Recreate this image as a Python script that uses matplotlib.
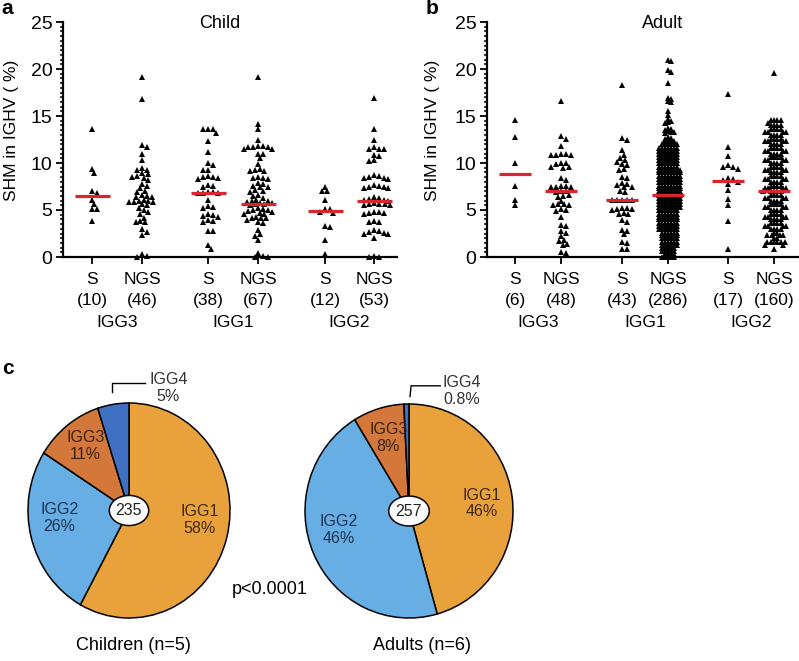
import matplotlib
matplotlib.use("Agg")
import matplotlib.pyplot as plt
import numpy as np
from matplotlib.ticker import MultipleLocator
from matplotlib.patches import Ellipse

plt.rcParams['font.family'] = ['Liberation Sans', 'DejaVu Sans']

# ---- data (SHM in IGHV, %) ----
child_counts = ['(10)', '(46)', '(38)', '(67)', '(12)', '(53)']
adult_counts = ['(6)', '(48)', '(43)', '(286)', '(17)', '(160)']
methods = ['S', 'NGS', 'S', 'NGS', 'S', 'NGS']
subclasses = ['IGG3', 'IGG1', 'IGG2']

child_igg3_s = [13.6, 9.4, 8.9, 7.0, 6.8, 6.1, 5.6, 5.1, 5.1, 3.8]
child_igg3_ngs = [19.2, 16.8, 11.9, 11.7, 11.0, 10.3, 9.5, 9.3, 9.3, 8.9, 8.8, 8.6,
                  8.5, 8.4, 8.2, 7.8, 7.6, 7.3, 7.0, 6.9, 6.6, 6.5, 6.4, 6.4,
                  6.1, 6.0, 6.0, 5.9, 5.9, 5.8, 5.6, 5.5, 5.2, 5.0, 4.8, 4.6,
                  4.2, 3.8, 3.7, 3.7, 3.0, 2.7, 2.3, 0.3, 0.1, 0.0]
child_igg1_s = [13.6, 13.6, 13.6, 13.2, 12.3, 11.2, 10.0, 9.8, 9.3, 9.3, 8.6, 8.5,
                8.5, 8.4, 8.3, 7.7, 7.6, 7.5, 6.9, 6.9, 6.8, 6.8, 6.8, 6.1,
                5.4, 5.3, 5.2, 4.6, 4.5, 4.4, 4.3, 3.9, 3.8, 3.7, 2.8, 2.8, 1.3, 0.9]
child_igg1_ngs = [19.2, 14.2, 13.6, 12.4, 11.8, 11.8, 11.7, 11.7, 11.7, 11.5, 11.5,
                  11.0, 11.0, 10.5, 9.9, 9.4, 9.3, 9.2, 9.1, 8.5, 8.4, 8.4, 8.3,
                  7.9, 7.8, 7.6, 7.5, 7.4, 7.1, 7.0, 6.9, 6.6, 6.5, 6.3, 6.1, 6.0,
                  6.0, 5.9, 5.7, 5.7, 5.6, 5.6, 5.5, 5.2, 5.1, 5.0, 5.0, 4.9, 4.8,
                  4.7, 4.6, 4.6, 4.3, 4.2, 4.2, 4.1, 3.9, 3.7, 3.6, 2.9, 2.4, 2.2,
                  1.8, 0.4, 0.1, 0.0, 0.0]
child_igg2_s = [7.5, 7.0, 7.0, 6.1, 5.1, 5.1, 4.8, 4.7, 3.3, 3.2, 1.8, 0.3]
child_igg2_ngs = [16.9, 13.6, 12.4, 11.7, 11.5, 11.5, 11.5, 10.9, 10.7, 10.3, 10.2,
                  8.7, 8.6, 8.5, 8.4, 8.4, 8.3, 7.7, 7.6, 7.5, 7.4, 7.3, 7.3,
                  6.4, 6.3, 6.2, 6.1, 6.1, 6.0, 5.7, 5.6, 5.6, 5.6, 5.5, 5.5,
                  4.8, 4.8, 4.7, 4.7, 4.6, 3.8, 3.7, 3.7, 2.9, 2.8, 2.7, 2.6,
                  2.5, 2.5, 2.0, 0.1, 0.0, 0.0]

adult_igg3_s = [14.6, 12.8, 10.0, 7.6, 6.1, 5.5]
adult_igg3_ngs = [16.6, 12.9, 12.6, 11.8, 11.0, 11.0, 10.9, 10.9, 10.9, 10.0, 10.0,
                  9.9, 9.6, 9.6, 9.5, 8.4, 8.2, 7.6, 7.6, 7.5, 7.5, 7.4, 7.0, 7.0,
                  6.9, 6.6, 6.5, 6.4, 6.0, 5.6, 5.6, 5.5, 5.5, 5.1, 5.0, 4.9, 4.3,
                  3.4, 3.3, 2.8, 2.6, 2.2, 1.8, 1.7, 1.4, 1.3, 0.5, 0.4]
adult_igg1_s = [18.3, 12.7, 12.5, 11.4, 10.9, 10.5, 10.3, 10.1, 9.9, 9.8, 9.4, 9.3,
                8.5, 8.4, 7.9, 7.8, 7.7, 7.5, 7.4, 7.0, 6.9, 6.1, 6.1, 6.1, 6.1,
                6.1, 5.2, 5.2, 5.1, 5.1, 5.0, 4.7, 4.6, 4.6, 3.9, 3.7, 2.9, 2.8,
                2.4, 1.6, 1.5, 0.9, 0.8]
# dense column: isolated high values, then SHM levels with their counts
adult_igg1_ngs_high = [21.0, 20.9, 19.9, 19.7, 18.5, 16.9, 16.8, 16.6, 16.5, 15.5,
                       15.1, 14.7, 14.5, 14.4, 14.3, 13.7, 13.6, 13.5, 13.4, 13.3,
                       13.3, 13.2, 12.8, 12.7, 12.6]
adult_igg1_ngs_levels = [12.3, 12.0, 11.6, 11.3, 11.0, 10.6, 10.3, 10.0, 9.6, 9.3,
                         9.0, 8.6, 8.3, 8.0, 7.6, 7.3, 7.0, 6.6, 6.3, 6.0, 5.6, 5.3,
                         5.0, 4.6, 4.3, 4.0, 3.6, 3.3, 3.0, 2.6, 2.3, 2.0, 1.6, 1.3,
                         1.0, 0.6, 0.3, 0.0]
adult_igg1_ngs_counts = [4, 6, 7, 7, 7, 7, 7, 7, 7, 8, 8, 8, 8, 8, 8, 8, 8, 8, 8,
                         8, 8, 8, 7, 7, 7, 7, 7, 7, 7, 6, 6, 6, 6, 6, 5, 5, 4, 5]
adult_igg2_s = [17.3, 11.7, 10.7, 9.8, 9.6, 9.6, 9.4, 8.4, 8.3, 8.2, 8.0, 7.8, 7.1,
                6.2, 5.5, 3.8, 0.9]
adult_igg2_ngs_levels = [19.6, 14.6, 14.3, 14.0, 13.6, 13.3, 13.0, 12.6, 12.3, 12.0,
                         11.6, 11.3, 11.0, 10.6, 10.3, 10.0, 9.6, 9.3, 9.0, 8.6,
                         8.3, 8.0, 7.6, 7.3, 7.0, 6.6, 6.3, 6.0, 5.6, 5.3, 5.0, 4.6,
                         4.3, 4.0, 3.6, 3.3, 3.0, 2.6, 2.3, 2.0, 1.6, 1.3, 0.9]
adult_igg2_ngs_counts = [1, 4, 1, 4, 4, 4, 4, 4, 4, 4, 4, 4, 4, 4, 4, 4, 4, 4, 4, 4,
                         4, 4, 4, 4, 5, 4, 4, 4, 4, 4, 4, 4, 4, 4, 4, 4, 4, 2, 4, 2,
                         6, 2, 1]

child_medians = [6.5, None, 6.8, 5.6, 4.9, 6.0]
adult_medians = [8.8, 7.0, 6.1, 6.6, 8.1, 7.0]

pie_labels = ['IGG1', 'IGG2', 'IGG3', 'IGG4']
children_pct = [58, 26, 11, 5]
adults_pct = [46, 46, 8, 0.8]
children_total = 235
adults_total = 257

pie_colors = ['#E9A23B', '#66AEE3', '#D4773A', '#3F70C2']
red = '#D8262F'

adult_igg1_ngs = adult_igg1_ngs_high + list(np.repeat(adult_igg1_ngs_levels, adult_igg1_ngs_counts))
adult_igg2_ngs = list(np.repeat(adult_igg2_ngs_levels, adult_igg2_ngs_counts))

child_groups = [child_igg3_s, child_igg3_ngs, child_igg1_s, child_igg1_ngs, child_igg2_s, child_igg2_ngs]
adult_groups = [adult_igg3_s, adult_igg3_ngs, adult_igg1_s, adult_igg1_ngs, adult_igg2_s, adult_igg2_ngs]

W, H = 799, 661
fig = plt.figure(figsize=(W / 100, H / 100), dpi=100)


def px_axes(left, top, right, bottom):
    return fig.add_axes([left / W, 1 - bottom / H, (right - left) / W, (bottom - top) / H])


def swarm(values, d_px, ppu_x, ppu_y):
    # greedy beeswarm, returns x offsets in data units
    vals = np.asarray(values, float)
    order = np.argsort(-vals, kind='stable')
    px, py = [], []
    offs = np.zeros(len(vals))
    step = d_px / 3
    for i in order:
        y = vals[i] * ppu_y
        ax_ = np.array(px)
        ay_ = np.array(py)
        if len(py):
            near = np.abs(ay_ - y) < d_px
            nx, ny = ax_[near], ay_[near]
        else:
            nx, ny = ax_, ay_
        x = 0.0
        for k in range(0, 600):
            found = False
            for sgn in ([1] if k == 0 else [1, -1]):
                x = sgn * k * step
                if len(nx) == 0 or np.all((nx - x) ** 2 + (ny - y) ** 2 >= d_px ** 2):
                    found = True
                    break
            if found:
                break
        px.append(x)
        py.append(y)
        offs[i] = x / ppu_x
    return offs


def dot_panel(ax, groups, positions, spacing, counts, medians, xmax, half, ylabel_x):
    ppu_x = ax.get_position().width * W / xmax
    ppu_y = ax.get_position().height * H / 25
    for vals, pos, d, med in zip(groups, positions, spacing, medians):
        offs = swarm(vals, d, ppu_x, ppu_y)
        ax.plot(pos + offs, vals, linestyle='none', marker='^', markersize=3.9,
                color='black', markeredgewidth=0, clip_on=False, zorder=3)
        if med is not None:
            ax.hlines(med, pos - half, pos + half, color=red, lw=2.3, zorder=4)
    ax.set_xlim(0, xmax)
    ax.set_ylim(0, 25)
    ax.set_yticks([0, 5, 10, 15, 20, 25])
    ax.yaxis.set_minor_locator(MultipleLocator(0.5))
    ax.set_xticks(positions)
    ax.set_xticklabels([m + '\n' + c for m, c in zip(methods, counts)], linespacing=1.45)
    ax.tick_params(axis='both', which='major', labelsize=12.5, length=5, width=1.3, direction='out')
    ax.tick_params(axis='y', which='major', labelsize=14, pad=2.5)
    ax.tick_params(axis='x', which='major', pad=6)
    ax.tick_params(axis='y', which='minor', length=2.5, width=1.1)
    for s in ['top', 'right']:
        ax.spines[s].set_visible(False)
    for s in ['left', 'bottom']:
        ax.spines[s].set_linewidth(1.6)
    ax.set_ylabel('SHM in IGHV ( %)', fontsize=12.5)
    ax.yaxis.set_label_coords(ylabel_x, 0.54)
    for j, name in enumerate(subclasses):
        xc = (positions[2 * j] + positions[2 * j + 1]) / 2
        ax.text(xc, -0.277, name, transform=ax.get_xaxis_transform(), ha='center',
                va='center', fontsize=12.5)


ax_a = px_axes(63, 22, 397, 257)
dot_panel(ax_a, child_groups, [0.58, 1.58, 2.9, 3.9, 5.24, 6.22], [4.8] * 6,
          child_counts, child_medians, 6.68, 0.35, -0.132)
ax_b = px_axes(487, 22, 799, 257)
dot_panel(ax_b, adult_groups, [0.56, 1.48, 2.7, 3.62, 4.82, 5.74],
          [4.8, 4.8, 4.8, 2.8, 4.8, 3.4],
          adult_counts, adult_medians, 6.24, 0.32, -0.152)

fig.text(220 / W, 1 - 23 / H, 'Child', ha='center', va='center', fontsize=13)
fig.text(663 / W, 1 - 23 / H, 'Adult', ha='center', va='center', fontsize=13)
fig.text(1 / W, 1 - 9 / H, 'a', ha='left', va='center', fontsize=15, fontweight='bold')
fig.text(426 / W, 1 - 9 / H, 'b', ha='left', va='center', fontsize=15, fontweight='bold')
fig.text(2 / W, 1 - 368 / H, 'c', ha='left', va='center', fontsize=15, fontweight='bold')


def pie_panel(cx, cy, rx, ry, pct, total, label_pos, leader):
    xl, yl = (-1.25, 1.25), (-1.1, 1.4)
    ax = px_axes(cx + xl[0] * rx, cy - yl[1] * ry, cx + xl[1] * rx, cy - yl[0] * ry)
    ax.pie(pct, colors=pie_colors, startangle=90, counterclock=False,
           wedgeprops=dict(edgecolor='black', linewidth=1.1))
    ax.set_aspect('auto')
    ax.set_xlim(*xl)
    ax.set_ylim(*yl)
    ax.axis('off')
    ax.add_patch(Ellipse((0, 0), 0.39, 0.28, facecolor='white', edgecolor='black', lw=1.1, zorder=5))
    ax.text(0, 0, str(total), ha='center', va='center', fontsize=11.5, color='#222222', zorder=6)
    text_cols = ['#3d2a10', '#1c3350', '#3d2210', '#333333']
    for name, p, (tx, ty), tc in zip(pie_labels, pct, label_pos, text_cols):
        ax.text(tx, ty, '%s\n%s%%' % (name, p), ha='center', va='center', fontsize=11.5,
                linespacing=1.15, color=tc, zorder=6, clip_on=False)
    ax.plot([p[0] for p in leader], [p[1] for p in leader], color='black', lw=1.0, clip_on=False)
    return ax


pie_panel(129, 510.5, 101, 107.5, children_pct, children_total,
          [(0.70, -0.09), (-0.69, -0.07), (-0.43, 0.60), (0.39, 1.14)],
          [(-0.17, 1.10), (-0.17, 1.19), (0.16, 1.19)])
pie_panel(409, 511, 104, 107, adults_pct, adults_total,
          [(0.70, 0.07), (-0.68, -0.18), (-0.20, 0.68), (0.51, 1.12)],
          [(0.01, 1.07), (0.02, 1.17), (0.30, 1.17)])

fig.text(270 / W, 1 - 589 / H, 'p<0.0001', ha='center', va='center', fontsize=13)
fig.text(133 / W, 1 - 646 / H, 'Children (n=5)', ha='center', va='center', fontsize=13)
fig.text(422 / W, 1 - 646 / H, 'Adults (n=6)', ha='center', va='center', fontsize=13)

fig.savefig('out.png', dpi=100)
